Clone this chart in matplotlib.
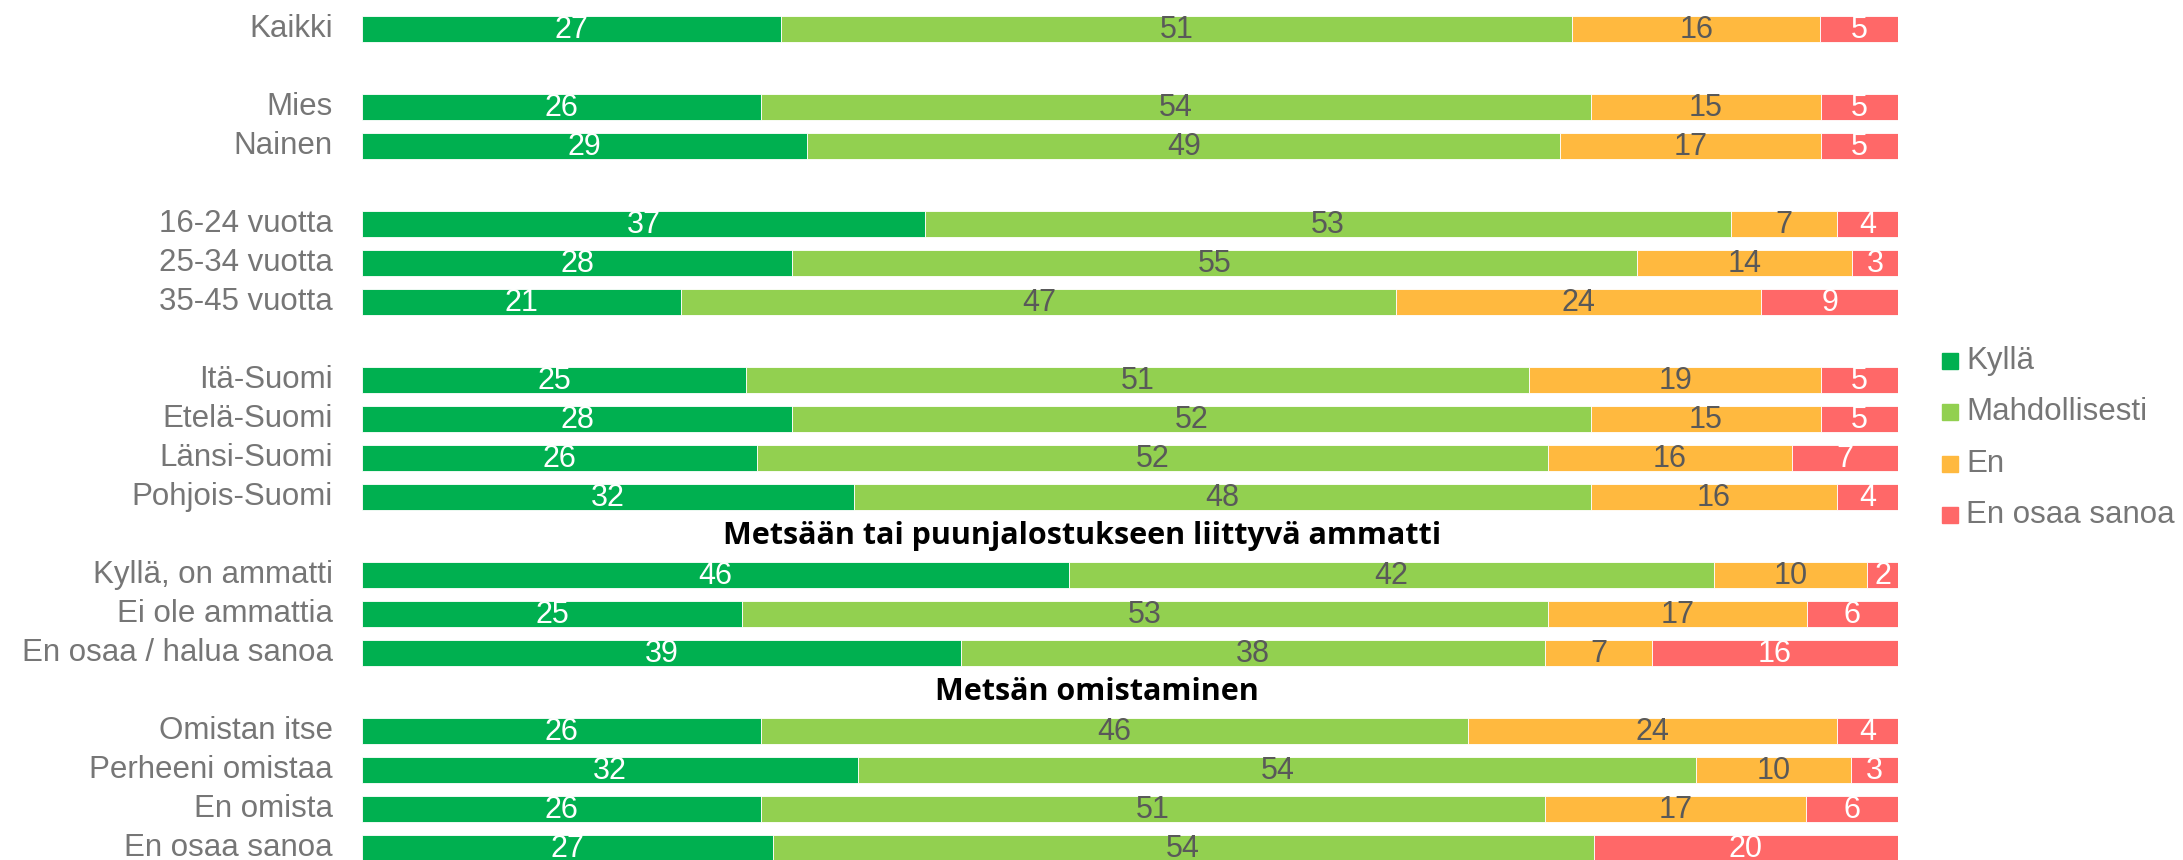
import matplotlib.pyplot as plt
from matplotlib.patches import Rectangle

# Series names and colours
series = ["Kyllä", "Mahdollisesti", "En", "En osaa sanoa"]
colors = ["#00B050", "#92D050", "#FFB93F", "#FF6868"]
text_colors = ["white", "#595959", "#595959", "white"]

# Row groups, each preceded (except the first) by a blank slot or a header
groups = [
    (None, ["Kaikki"]),
    (None, ["Mies", "Nainen"]),
    (None, ["16-24 vuotta", "25-34 vuotta", "35-45 vuotta"]),
    (None, ["Itä-Suomi", "Etelä-Suomi", "Länsi-Suomi", "Pohjois-Suomi"]),
    ("Metsään tai puunjalostukseen liittyvä ammatti",
     ["Kyllä, on ammatti", "Ei ole ammattia", "En osaa / halua sanoa"]),
    ("Metsän omistaminen",
     ["Omistan itse", "Perheeni omistaa", "En omista", "En osaa sanoa"]),
]

# Values per series, in row order
kylla = [27, 26, 29, 37, 28, 21, 25, 28, 26, 32, 46, 25, 39, 26, 32, 26, 27]
mahdollisesti = [51, 54, 49, 53, 55, 47, 51, 52, 52, 48, 42, 53, 38, 46, 54, 51, 54]
en = [16, 15, 17, 7, 14, 24, 19, 15, 16, 16, 10, 17, 7, 24, 10, 17, 0]
en_osaa = [5, 5, 5, 4, 3, 9, 5, 5, 7, 4, 2, 6, 16, 4, 3, 6, 20]
values = [kylla, mahdollisesti, en, en_osaa]

plt.rcParams['font.family'] = ['Liberation Sans', 'DejaVu Sans']

W, H = 2183, 860
fig = plt.figure(figsize=(W / 100, H / 100), dpi=100)
ax = fig.add_axes([362 / W, 0, 1536 / W, 1])

# slot positions
labels, ypos, headers = [], [], []
slot = 0
for i, (head, rows) in enumerate(groups):
    if i > 0:
        if head:
            headers.append((head, slot))
        slot += 1
    for r in rows:
        labels.append(r)
        ypos.append(slot)
        slot += 1

totals = [sum(v[i] for v in values) for i in range(len(labels))]
left = [0.0] * len(labels)
for s, vals in enumerate(values):
    widths = [vals[i] / totals[i] * 100 for i in range(len(labels))]
    ax.barh(ypos, widths, left=left, height=0.67, color=colors[s],
            edgecolor='white', linewidth=0.6, label=series[s])
    for i, w in enumerate(widths):
        if vals[i] > 0:
            ax.text(left[i] + w / 2, ypos[i] + 0.03, str(vals[i]), ha='center', va='center',
                    fontsize=22, color=text_colors[s])
    left = [left[i] + widths[i] for i in range(len(labels))]

for lab, y in zip(labels, ypos):
    ax.text(-1.9, y, lab, ha='right', va='center', fontsize=22.5, color='#767676')

header_x = [1082, 1097]
for (head, y), hx in zip(headers, header_x):
    ax.text((hx - 362) / 15.36, y, head, ha='center', va='center', fontsize=22,
            fontweight='bold', color='black', family=['Open Sans', 'DejaVu Sans'])

ax.set_xlim(0, 100)
ax.set_ylim(21.315, -0.736)
ax.axis('off')

# legend
leg_y = [361, 412, 464, 515]
for name, c, ly in zip(series, colors, leg_y):
    fig.add_artist(Rectangle((1942 / W, 1 - (ly + 8) / H), 16 / W, 16 / H,
                             transform=fig.transFigure, color=c))
    fig.text(1966 / W, 1 - ly / H, name, ha='left', va='center', fontsize=22.5,
             color='#767676')

fig.savefig("out.png", dpi=100)
